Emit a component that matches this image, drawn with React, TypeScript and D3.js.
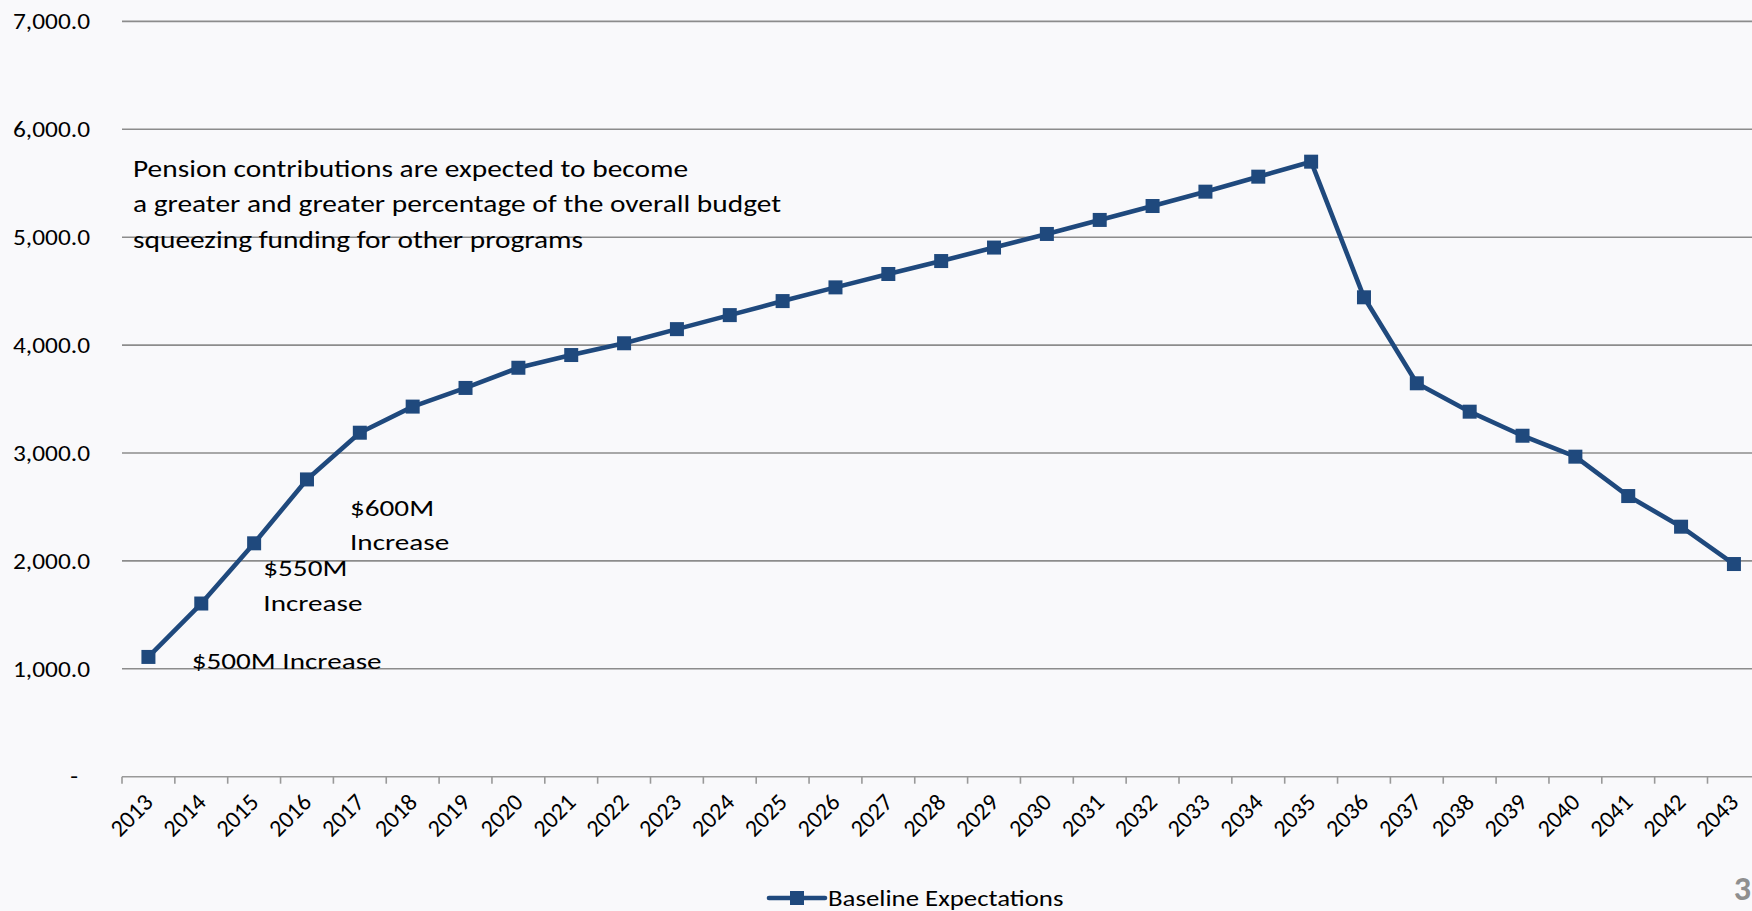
import React from "react";
import * as d3 from "d3";

const years: string[] = [
  "2013","2014","2015","2016","2017","2018","2019","2020","2021","2022",
  "2023","2024","2025","2026","2027","2028","2029","2030","2031","2032",
  "2033","2034","2035","2036","2037","2038","2039","2040","2041","2042","2043",
];

const baseline: number[] = [
  1110, 1605, 2163, 2755, 3188, 3430, 3603, 3790, 3908, 4017,
  4148, 4278, 4408, 4535, 4659, 4779, 4904, 5030, 5160, 5289,
  5422, 5561, 5700, 4443, 3646, 3383, 3160, 2966, 2601, 2317, 1971,
];

const yTicks: number[] = [0, 1000, 2000, 3000, 4000, 5000, 6000, 7000];

const noteLines: string[] = [
  "Pension contributions are expected to become",
  "a greater and greater percentage of the overall budget",
  "squeezing funding for other programs",
];
const note500: string[] = ["$500M Increase"];
const note550: string[] = ["$550M", "Increase"];
const note600: string[] = ["$600M", "Increase"];
const seriesName = "Baseline Expectations";
const pageNumber = "3";

const W = 1752;
const H = 911;
const FONT = "Carlito, Calibri, Lato, sans-serif";
const BLUE = "#1F497D";
const GRID = "#8c8c8c";

function Multi(props: { x: number; y: number; lines: string[]; size: number; sx: number; lh: number }) {
  const { x, y, lines, size, sx, lh } = props;
  return (
    <text transform={`translate(${x},${y}) scale(${sx},1)`} fontSize={size} fill="#000">
      {lines.map((l, i) => (
        <tspan key={i} x={0} y={i * lh}>{l}</tspan>
      ))}
    </text>
  );
}

export default function App() {
  const left = 122;
  const step = 52.85;
  const x = d3
    .scaleBand<string>()
    .domain(years)
    .range([left, left + step * years.length])
    .padding(0);
  const y = d3.scaleLinear().domain([0, 7000]).range([776.7, 21.4]);
  const cx = (d: string) => (x(d) as number) + x.bandwidth() / 2;

  const pts: [number, number][] = years.map((d, i) => [cx(d), y(baseline[i])]);
  const line = d3.line<[number, number]>().x((p) => p[0]).y((p) => p[1]);
  const fmt = d3.format(",.1f");
  const ms = 14;

  const tickXs = years.map((d) => x(d) as number).concat([left + step * years.length]);

  return (
    <svg
      width={W}
      height={H}
      style={{ position: "absolute", left: 0, top: 0, display: "block" }}
      fontFamily={FONT}
    >
      <rect x={0} y={0} width={W} height={H} fill="#f9f9fb" />
      {/* gridlines */}
      {yTicks.filter((t) => t > 0).map((t) => (
        <line key={t} x1={left} x2={W} y1={y(t)} y2={y(t)} stroke={GRID} strokeWidth={1.6} />
      ))}
      {/* x axis */}
      <line x1={left} x2={W} y1={y(0)} y2={y(0)} stroke="#999" strokeWidth={1.6} />
      {tickXs.map((tx, i) => (
        <line key={i} x1={tx} x2={tx} y1={y(0)} y2={y(0) + 7} stroke="#999" strokeWidth={1.6} />
      ))}
      {/* y labels */}
      {yTicks.map((t) => (
        <text
          key={t}
          transform={`translate(${t === 0 ? 78 : 90},${y(t)}) scale(1.18,1)`}
          dy="0.36em"
          textAnchor="end"
          fontSize={21.5}
          fill="#000"
        >
          {t === 0 ? "-" : fmt(t)}
        </text>
      ))}
      {/* x labels */}
      {years.map((d) => (
        <text
          key={d}
          transform={`translate(${cx(d) + 6},${y(0) + 27}) rotate(-45)`}
          textAnchor="end"
          fontSize={24}
          fill="#000"
        >
          {d}
        </text>
      ))}
      {/* series */}
      <path d={line(pts) || ""} fill="none" stroke={BLUE} strokeWidth={4.6} strokeLinejoin="round" />
      {pts.map((p, i) => (
        <rect key={i} x={p[0] - ms / 2} y={p[1] - ms / 2} width={ms} height={ms} fill={BLUE} />
      ))}
      {/* annotations */}
      <Multi x={133} y={176.7} lines={noteLines} size={24.3} sx={1.21} lh={35.6} />
      <Multi x={191.7} y={669.3} lines={note500} size={22.8} sx={1.28} lh={35} />
      <Multi x={263.3} y={575.7} lines={note550} size={22.8} sx={1.28} lh={35} />
      <Multi x={350} y={515.5} lines={note600} size={22.8} sx={1.28} lh={35} />
      {/* legend */}
      <line x1={769} x2={825} y1={898} y2={898} stroke={BLUE} strokeWidth={4.6} strokeLinecap="round" />
      <rect x={797 - ms / 2} y={898 - ms / 2} width={ms} height={ms} fill={BLUE} />
      <text transform="translate(828,906) scale(1.22,1)" fontSize={22} fill="#000">{seriesName}</text>
      {/* page number */}
      <text x={1751} y={900} textAnchor="end" fontSize={34} fontWeight="bold" fill="#8f8f8f">
        {pageNumber}
      </text>
    </svg>
  );
}
